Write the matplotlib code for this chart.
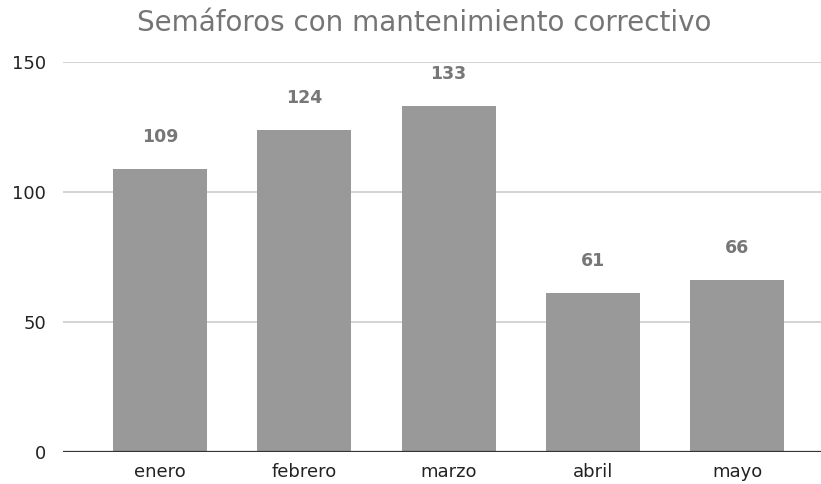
import matplotlib.pyplot as plt
import numpy as np

# monthly counts of traffic lights with corrective maintenance
meses = ["enero", "febrero", "marzo", "abril", "mayo"]
semaforos = [109, 124, 133, 61, 66]
y_ticks = [0, 50, 100, 150]

fig = plt.figure(figsize=(8.21, 4.84), dpi=100)
ax = fig.add_axes([0.0767, 0.0661, 0.9233, 0.8058])

x = np.arange(len(meses))
bars = ax.bar(x, semaforos, width=0.65, color="#999999", zorder=3)

# value labels above each bar
for xi, v in zip(x, semaforos):
    ax.annotate(str(v), (xi, v), xytext=(0, 23), textcoords="offset points",
                ha="center", va="center", fontsize=12.5, fontweight="bold",
                color="#777777", family="DejaVu Sans")

ax.set_xlim(-0.672, 4.58)
ax.set_ylim(0, 150)
ax.set_yticks(y_ticks)
ax.set_xticks(x)
ax.set_xticklabels(meses, family="DejaVu Sans", fontsize=13, color="#222222")
ax.set_yticklabels([str(t) for t in y_ticks], family="DejaVu Sans",
                   fontsize=13, color="#222222")
ax.tick_params(length=0)
ax.tick_params(axis="y", pad=12)
ax.tick_params(axis="x", pad=8)

ax.grid(axis="y", color="#cccccc", linewidth=1.2, zorder=0)
ax.axhline(0, color="#333333", linewidth=1.6, zorder=4)
for s in ax.spines.values():
    s.set_visible(False)

fig.text(0.517, 0.953, "Semáforos con mantenimiento correctivo", ha="center",
         va="center", fontsize=20, color="#757575", family="DejaVu Sans")

fig.savefig("out.png", dpi=100)
